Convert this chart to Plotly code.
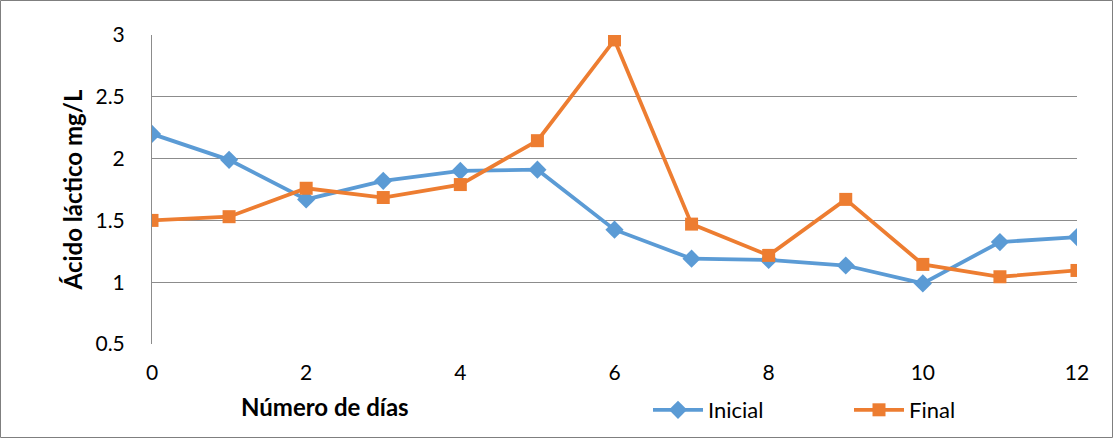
import plotly.graph_objects as go

dias = [0, 1, 2, 3, 4, 5, 6, 7, 8, 9, 10, 11, 12]
inicial = [2.20, 1.99, 1.67, 1.82, 1.90, 1.91, 1.425, 1.19, 1.18, 1.135, 0.99, 1.325, 1.365]
final = [1.50, 1.53, 1.76, 1.685, 1.79, 2.145, 2.96, 1.47, 1.217, 1.67, 1.144, 1.044, 1.095]

W, H = 1113, 438
L, R, T, B = 152, 36, 35, 94
pw, ph = W - L - R, H - T - B

font_family = "Lato, Open Sans, Arial, sans-serif"

fig = go.Figure()
fig.add_trace(go.Scatter(
    x=dias, y=inicial, name="Inicial", mode="lines+markers",
    line=dict(color="#5B9BD5", width=3.8),
    marker=dict(symbol="diamond", size=14, color="#5B9BD5"),
))
fig.add_trace(go.Scatter(
    x=dias, y=final, name="Final", mode="lines+markers",
    line=dict(color="#ED7D31", width=3.8),
    marker=dict(symbol="square", size=13, color="#ED7D31"),
))

fig.update_layout(
    width=W, height=H,
    margin=dict(l=L, r=R, t=T, b=B, autoexpand=False),
    paper_bgcolor="white", plot_bgcolor="white",
    font=dict(family=font_family, size=21, color="black"),
    showlegend=True,
    legend=dict(
        orientation="h", xref="paper", yref="container",
        x=(648 - L) / pw, y=1 - 410 / H, xanchor="left", yanchor="middle",
        font=dict(size=22), entrywidth=136, entrywidthmode="pixels",
        itemwidth=50, bgcolor="rgba(0,0,0,0)",
    ),
    xaxis=dict(
        range=[0, 12], tickvals=[0, 2, 4, 6, 8, 10, 12],
        showgrid=False, zeroline=False, showline=False, automargin=False,
        ticks="", ticklabelstandoff=14,
        tickfont=dict(size=21),
    ),
    yaxis=dict(
        range=[0.5, 3], tickvals=[0.5, 1, 1.5, 2, 2.5, 3],
        ticktext=["0.5", "1", "1.5", "2", "2.5", "3"],
        showgrid=True, gridcolor="#8c8c8c", gridwidth=1, automargin=False,
        zeroline=False, showline=True, linecolor="#8c8c8c", linewidth=1,
        ticks="", ticklabelstandoff=22,
        tickfont=dict(size=21),
        title=dict(text="<b>Ácido láctico mg/L</b>", font=dict(size=24), standoff=6),
    ),
    annotations=[dict(
        text="<b>Número de días</b>", xref="paper", yref="paper",
        x=(325 - L) / pw, y=-(406 - (T + ph)) / ph, xanchor="center", yanchor="middle",
        showarrow=False, font=dict(size=24, family=font_family),
    )],
    shapes=[dict(
        type="rect", xref="paper", yref="paper",
        x0=(0.5 - L) / pw, x1=(W - 0.5 - L) / pw,
        y0=-(H - 0.5 - (T + ph)) / ph, y1=1 + (T - 0.5) / ph,
        line=dict(color="#7f7f7f", width=1), layer="below",
    )],
)

fig.write_html(
    "out.html",
    config={"displayModeBar": False},
    post_script="document.body.style.margin='0';document.body.style.overflow='hidden';",
)
